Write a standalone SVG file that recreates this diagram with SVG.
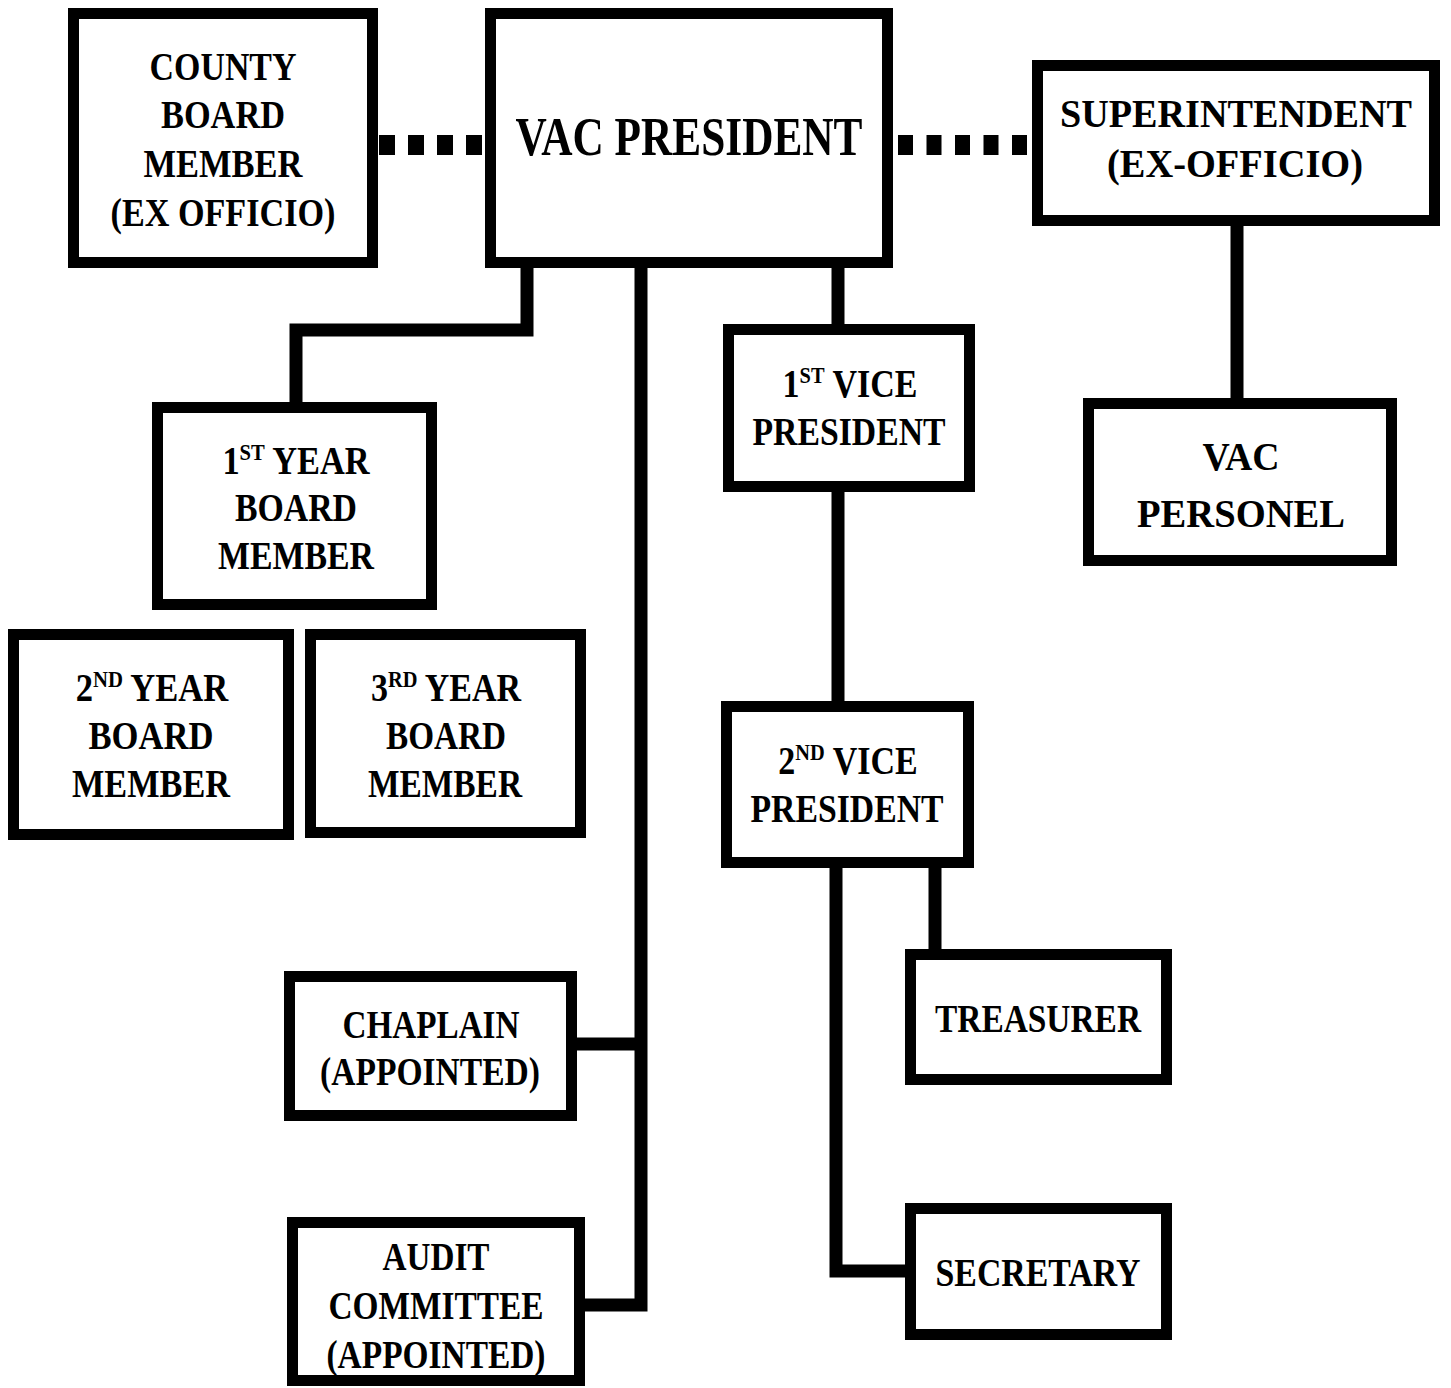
<svg xmlns="http://www.w3.org/2000/svg" width="1451" height="1388" viewBox="0 0 1451 1388">
<style>
.box{fill:#fff;stroke:#000;stroke-width:11}
.ln{fill:none;stroke:#000;stroke-width:13;stroke-linejoin:miter;stroke-linecap:butt}
.dot{fill:none;stroke:#000;stroke-width:20}
text{font-family:"Liberation Serif","Times New Roman",serif;font-weight:bold;font-size:40px;fill:#000;text-anchor:middle}
.big{font-size:54px}
.sup{font-size:24px}
</style>
<rect width="1451" height="1388" fill="#fff"/>
<g id="connectors">
<line class="dot" x1="379" y1="145" x2="485" y2="145" stroke-dasharray="16 13"/>
<line class="dot" x1="898" y1="145" x2="1032" y2="145" stroke-dasharray="15 13.5"/>
<path class="ln" d="M527,268 V330 H296 V402"/>
<path class="ln" d="M577,1044 H641"/>
<path class="ln" d="M585,1305 H641 V268"/>
<path class="ln" d="M838,268 V324"/>
<path class="ln" d="M838,492 V701"/>
<path class="ln" d="M836,868 V1271 H905"/>
<path class="ln" d="M935,868 V949"/>
<path class="ln" d="M1237,226 V398"/>
</g>
<g id="county">
<rect class="box" x="73.5" y="13.5" width="299" height="249"/>
<text x="223" y="80" textLength="147" lengthAdjust="spacingAndGlyphs">COUNTY</text>
<text x="223" y="128" textLength="124" lengthAdjust="spacingAndGlyphs">BOARD</text>
<text x="223" y="177" textLength="159" lengthAdjust="spacingAndGlyphs">MEMBER</text>
<text x="223" y="226" textLength="225" lengthAdjust="spacingAndGlyphs">(EX OFFICIO)</text>
</g>
<g id="president">
<rect class="box" x="490.5" y="13.5" width="397" height="249"/>
<text class="big" x="689" y="155" textLength="347" lengthAdjust="spacingAndGlyphs">VAC PRESIDENT</text>
</g>
<g id="superintendent">
<rect class="box" x="1037.5" y="65.5" width="397" height="155"/>
<text x="1236" y="127" textLength="352" lengthAdjust="spacingAndGlyphs">SUPERINTENDENT</text>
<text x="1235" y="177" textLength="256" lengthAdjust="spacingAndGlyphs">(EX-OFFICIO)</text>
</g>
<g id="personel">
<rect class="box" x="1088.5" y="403.5" width="303" height="157"/>
<text x="1241" y="470" textLength="77" lengthAdjust="spacingAndGlyphs">VAC</text>
<text x="1241" y="527" textLength="208" lengthAdjust="spacingAndGlyphs">PERSONEL</text>
</g>
<g id="year1">
<rect class="box" x="157.5" y="407.5" width="274" height="197"/>
<text transform="translate(296,474) scale(0.86,1)">1<tspan class="sup" dy="-14">ST</tspan><tspan dy="14"> YEAR</tspan></text>
<text x="296" y="521" textLength="122" lengthAdjust="spacingAndGlyphs">BOARD</text>
<text x="296" y="569" textLength="156" lengthAdjust="spacingAndGlyphs">MEMBER</text>
</g>
<g id="year2">
<rect class="box" x="13.5" y="634.5" width="275" height="200"/>
<text transform="translate(152,701) scale(0.865,1)">2<tspan class="sup" dy="-14">ND</tspan><tspan dy="14"> YEAR</tspan></text>
<text x="151" y="749" textLength="125" lengthAdjust="spacingAndGlyphs">BOARD</text>
<text x="151" y="797" textLength="158" lengthAdjust="spacingAndGlyphs">MEMBER</text>
</g>
<g id="year3">
<rect class="box" x="310.5" y="634.5" width="270" height="198"/>
<text transform="translate(446,701) scale(0.85,1)">3<tspan class="sup" dy="-14">RD</tspan><tspan dy="14"> YEAR</tspan></text>
<text x="446" y="749" textLength="120" lengthAdjust="spacingAndGlyphs">BOARD</text>
<text x="445" y="797" textLength="154" lengthAdjust="spacingAndGlyphs">MEMBER</text>
</g>
<g id="vice1">
<rect class="box" x="728.5" y="329.5" width="241" height="157"/>
<text transform="translate(850,397) scale(0.85,1)">1<tspan class="sup" dy="-14">ST</tspan><tspan dy="14"> VICE</tspan></text>
<text x="849" y="445" textLength="193" lengthAdjust="spacingAndGlyphs">PRESIDENT</text>
</g>
<g id="vice2">
<rect class="box" x="726.5" y="706.5" width="242" height="156"/>
<text transform="translate(848,774) scale(0.85,1)">2<tspan class="sup" dy="-14">ND</tspan><tspan dy="14"> VICE</tspan></text>
<text x="847" y="822" textLength="193" lengthAdjust="spacingAndGlyphs">PRESIDENT</text>
</g>
<g id="treasurer">
<rect class="box" x="910.5" y="954.5" width="256" height="125"/>
<text x="1038" y="1032" textLength="206" lengthAdjust="spacingAndGlyphs">TREASURER</text>
</g>
<g id="secretary">
<rect class="box" x="910.5" y="1208.5" width="256" height="126"/>
<text x="1038" y="1286" textLength="205" lengthAdjust="spacingAndGlyphs">SECRETARY</text>
</g>
<g id="chaplain">
<rect class="box" x="289.5" y="976.5" width="282" height="139"/>
<text x="431" y="1038" textLength="177" lengthAdjust="spacingAndGlyphs">CHAPLAIN</text>
<text x="430" y="1085" textLength="220" lengthAdjust="spacingAndGlyphs">(APPOINTED)</text>
</g>
<g id="audit">
<rect class="box" x="292.5" y="1222.5" width="287" height="158"/>
<text x="436" y="1270" textLength="107" lengthAdjust="spacingAndGlyphs">AUDIT</text>
<text x="436" y="1319" textLength="215" lengthAdjust="spacingAndGlyphs">COMMITTEE</text>
<text x="436" y="1368" textLength="219" lengthAdjust="spacingAndGlyphs">(APPOINTED)</text>
</g>
</svg>
